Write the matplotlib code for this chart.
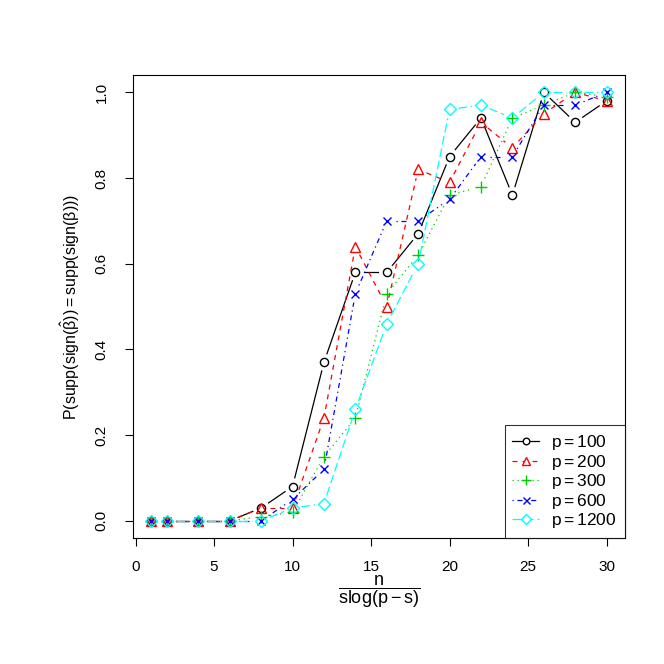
import numpy as np
import matplotlib
matplotlib.use('Agg')
import matplotlib.pyplot as plt
from matplotlib.lines import Line2D

plt.rcParams['font.family'] = ['Liberation Sans', 'DejaVu Sans']
plt.rcParams['mathtext.fontset'] = 'custom'
plt.rcParams['mathtext.rm'] = 'Liberation Sans'
plt.rcParams['mathtext.it'] = 'Liberation Sans'
plt.rcParams['mathtext.bf'] = 'Liberation Sans:bold'

X = [1, 2, 4, 6, 8, 10, 12, 14, 16, 18, 20, 22, 24, 26, 28, 30]
P100 = [0, 0, 0, 0, 0.03, 0.08, 0.37, 0.58, 0.58, 0.67, 0.85, 0.94, 0.76, 1.00, 0.93, 0.98]
P200 = [0, 0, 0, 0, 0.03, 0.03, 0.24, 0.64, 0.50, 0.82, 0.79, 0.93, 0.87, 0.95, 1.00, 0.98]
P300 = [0, 0, 0, 0, 0.01, 0.02, 0.15, 0.24, 0.53, 0.62, 0.76, 0.78, 0.94, 0.97, 1.00, 0.99]
P600 = [0, 0, 0, 0, 0.00, 0.05, 0.12, 0.53, 0.70, 0.70, 0.75, 0.85, 0.85, 0.97, 0.97, 1.00]
P1200 = [0, 0, 0, 0, 0.00, 0.03, 0.04, 0.26, 0.46, 0.60, 0.96, 0.97, 0.94, 1.00, 1.00, 1.00]
LABELS = ['100', '200', '300', '600', '1200']

series = [P100, P200, P300, P600, P1200]
colors = ['black', '#FF0000', '#00CD00', '#0000FF', '#00FFFF']
markers = ['o', '^', '+', 'x', 'D']
sizes = [5.9, 7.2, 8.5, 6.3, 5.8]
dashes = [None, (4, 4), (1, 3), (1, 3, 4, 3), (7, 3)]
GAP = 9.0  # px left open around each point, like R type="b"

fig = plt.figure(figsize=(6.64, 6.64), dpi=100)
ax = fig.add_axes([0.2003, 0.1898, 0.7407, 0.697])
ax.set_xlim(-0.16, 31.16)
ax.set_ylim(-0.04, 1.04)

handles = []
for y, c, m, s, d, lab in zip(series, colors, markers, sizes, dashes, LABELS):
    pts = ax.transData.transform(np.column_stack([X, y]))
    for a, b in zip(pts[:-1], pts[1:]):
        v = b - a
        dist = np.hypot(*v)
        if dist <= 2 * GAP:
            continue
        u = v / dist
        seg = ax.transData.inverted().transform([a + u * GAP, b - u * GAP])
        ln, = ax.plot(seg[:, 0], seg[:, 1], color=c, linewidth=0.9)
        if d is not None:
            ln.set_dashes(d)
    ax.plot(X, y, linestyle='none', marker=m, markersize=s, markerfacecolor='none',
            markeredgecolor=c, markeredgewidth=1.0)
    h = Line2D([], [], color=c, marker=m, markersize=s * 0.8, markerfacecolor='white',
               markeredgecolor=c, markeredgewidth=1.0, linewidth=0.9)
    if d is not None:
        h.set_dashes(d)
    handles.append(h)

ax.set_xticks([0, 5, 10, 15, 20, 25, 30])
ax.set_yticks([0.0, 0.2, 0.4, 0.6, 0.8, 1.0])
ax.set_yticklabels(['0.0', '0.2', '0.4', '0.6', '0.8', '1.0'], rotation=90, va='center')
ax.tick_params(labelsize=11, length=5.5, width=0.8, direction='out')
ax.tick_params(axis='x', pad=10)
ax.tick_params(axis='y', pad=12)
for sp in ax.spines.values():
    sp.set_linewidth(0.8)

ax.set_xlabel(r'$\dfrac{\mathrm{n}}{\mathrm{s}\log(\mathrm{p}-\mathrm{s})}$', fontsize=13,
              va='center')
ax.xaxis.set_label_coords(0.5, -0.116)
ax.set_ylabel(r'$\mathrm{P(supp(sign(}\hat{\beta}\mathrm{)) = supp(sign(}\beta\mathrm{)))}$',
              fontsize=11.5, labelpad=9)

leg = ax.legend(handles, [r'$\mathrm{p} = %s$' % lab for lab in LABELS],
                loc='lower right', fontsize=12.5, frameon=True, fancybox=False,
                borderaxespad=0, handlelength=1.55, handletextpad=0.7,
                labelspacing=0.03, borderpad=0.45)
leg.get_frame().set_edgecolor('black')
leg.get_frame().set_linewidth(0.8)

fig.savefig('out.png', dpi=100)
